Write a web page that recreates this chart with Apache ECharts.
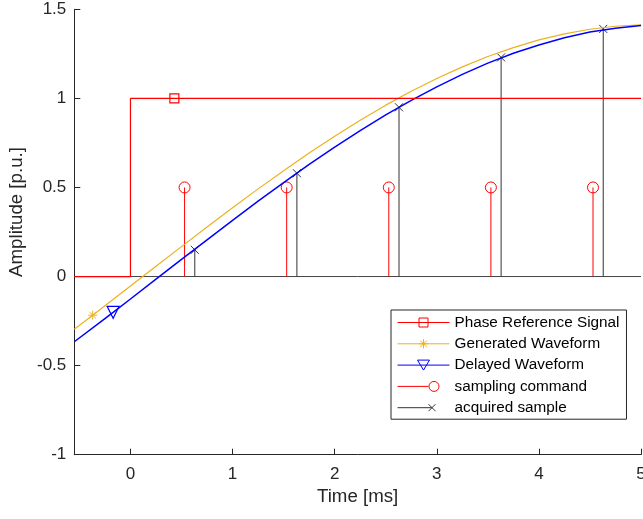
<!DOCTYPE html>
<html>
<head>
<meta charset="utf-8">
<script src="https://cdn.jsdelivr.net/npm/echarts@6/dist/echarts.min.js"></script>
<style>
html,body{margin:0;padding:0;background:#fff;}
#chart{width:643px;height:519px;}
</style>
</head>
<body>
<div id="chart"></div>
<script>
// ---- data ----
var xRange = [-0.55, 5];
var xTicks = [0, 1, 2, 3, 4, 5];
var yRange = [-1, 1.5];

var phaseT = [-0.55, 0, 0, 0.43, 5];
var phaseV = [0, 0, 1, 1, 1];
var phaseMarkerIdx = 3;

var genT = [-0.55, -0.37, -0.25, 0, 0.25, 0.5, 0.75, 1, 1.25, 1.5, 1.75, 2, 2.25, 2.5, 2.75, 3, 3.25, 3.5, 3.75, 4, 4.25, 4.5, 4.75, 5];
var genV = [-0.296, -0.217, -0.164, -0.053, 0.058, 0.168, 0.278, 0.386, 0.492, 0.594, 0.693, 0.788, 0.877, 0.962, 1.040, 1.112, 1.177, 1.235, 1.285, 1.328, 1.362, 1.388, 1.405, 1.413];
var genMarkerIdx = 1;

var delT = [-0.55, -0.25, -0.17, 0, 0.25, 0.5, 0.75, 1, 1.25, 1.5, 1.75, 2, 2.25, 2.5, 2.75, 3, 3.25, 3.5, 3.75, 4, 4.25, 4.5, 4.75, 5];
var delV = [-0.366, -0.236, -0.201, -0.126, -0.015, 0.096, 0.206, 0.315, 0.423, 0.527, 0.629, 0.726, 0.819, 0.907, 0.989, 1.065, 1.135, 1.198, 1.253, 1.300, 1.340, 1.372, 1.394, 1.409];
var delMarkerIdx = 2;

var sampleT = [0.53, 1.53, 2.53, 3.53, 4.53];
var sampleV = [0.5, 0.5, 0.5, 0.5, 0.5];

var acqT = [0.63, 1.63, 2.63, 3.63, 4.63];
var acqV = [0.15, 0.58, 0.95, 1.23, 1.39];

var stemBase = 0;

var names = ['Phase Reference Signal', 'Generated Waveform', 'Delayed Waveform', 'sampling command', 'acquired sample'];

// ---- helpers ----
function markerLine(xs, ys, idx) {
  return xs.map(function (x, i) {
    return i === idx ? [x, ys[i]] : { value: [x, ys[i]], symbol: 'none' };
  });
}
function stems(xs, ys) {
  var d = [];
  xs.forEach(function (x, i) {
    d.push({ value: [x, stemBase], symbol: 'none' });
    d.push([x, ys[i]]);
    d.push([x, '-']);
  });
  return d;
}

var FONT = 'Liberation Sans, Arial, sans-serif';
var AX = '#262626';
var RED = '#ff0000', ORANGE = '#EDB120', BLUE = '#0000ff', BLACK = '#333333';

// legend icons (MATLAB style: line with marker), 52 x 14 box
var icons = [
  'path://M0 7L52 7M21.5 2.5L30.5 2.5L30.5 11.5L21.5 11.5Z',
  'path://M0 7L52 7M26 2.5L26 11.5M21.5 7L30.5 7M22.8 3.8L29.2 10.2M22.8 10.2L29.2 3.8',
  'path://M0 7L52 7M20 2L32 2L26 12Z',
  'path://M0 7L31 7M41.5 7A5 5 0 1 1 31.5 7A5 5 0 1 1 41.5 7M52 7L52 7',
  'path://M0 7L34 7M31 3.5L38 10.5M31 10.5L38 3.5M52 7L52 7'
];

var chart = echarts.init(document.getElementById('chart'), null, { renderer: 'canvas' });
chart.setOption({
  animation: false,
  backgroundColor: '#ffffff',
  grid: { left: 74.3, right: 2, top: 9.3, bottom: 64.3, outerBoundsMode: 'none', containLabel: false },
  xAxis: {
    type: 'value', min: xRange[0], max: xRange[1],
    name: 'Time [ms]', nameLocation: 'middle', nameGap: 32,
    nameTextStyle: { fontFamily: FONT, fontSize: 18.7, color: AX },
    axisLine: { show: true, onZero: false, lineStyle: { color: AX, width: 1 } },
    axisTick: { show: true, inside: true, length: 6, customValues: xTicks, lineStyle: { color: AX } },
    axisLabel: { customValues: xTicks, margin: 11, fontFamily: FONT, fontSize: 17, color: AX },
    splitLine: { show: false }
  },
  yAxis: {
    type: 'value', min: yRange[0], max: yRange[1], interval: 0.5,
    name: 'Amplitude [p.u.]', nameLocation: 'middle', nameGap: 43,
    nameTextStyle: { fontFamily: FONT, fontSize: 18.7, color: AX, padding: [0, 0, 0, 40] },
    axisLine: { show: true, onZero: false, lineStyle: { color: AX, width: 1 } },
    axisTick: { show: true, inside: true, length: 6, lineStyle: { color: AX } },
    axisLabel: { margin: 8, fontFamily: FONT, fontSize: 17, color: AX },
    splitLine: { show: false }
  },
  legend: {
    orient: 'vertical', left: 391, top: 310,
    itemWidth: 52, itemHeight: 14, itemGap: 6.3,
    padding: [5, 7, 4, 6],
    borderColor: AX, borderWidth: 1, backgroundColor: '#ffffff',
    itemStyle: { borderWidth: 1 },
    textStyle: { fontFamily: FONT, fontSize: 15.3, color: '#000' },
    data: names.map(function (n, i) { return { name: n, icon: icons[i] }; }),
    selectedMode: false
  },
  series: [
    {
      name: 'stem baseline', type: 'line', silent: true, z: 1,
      data: [[xRange[0], stemBase], [xRange[1], stemBase]],
      symbol: 'none', lineStyle: { color: '#444444', width: 1 }
    },
    {
      name: names[0], type: 'line', z: 4,
      data: markerLine(phaseT, phaseV, phaseMarkerIdx),
      symbol: 'rect', symbolSize: 9, showSymbol: true,
      lineStyle: { color: RED, width: 1.2 },
      itemStyle: { color: 'rgba(0,0,0,0)', borderColor: RED, borderWidth: 1.2 }
    },
    {
      name: names[1], type: 'line', z: 3,
      data: markerLine(genT, genV, genMarkerIdx),
      symbol: 'path://M5 0L5 10M0 5L10 5M1.5 1.5L8.5 8.5M1.5 8.5L8.5 1.5', symbolSize: 9, showSymbol: true,
      lineStyle: { color: ORANGE, width: 1.2 },
      itemStyle: { color: 'rgba(0,0,0,0)', borderColor: ORANGE, borderWidth: 1 }
    },
    {
      name: names[2], type: 'line', z: 3,
      data: markerLine(delT, delV, delMarkerIdx),
      symbol: 'triangle', symbolRotate: 180, symbolSize: 12, showSymbol: true,
      lineStyle: { color: BLUE, width: 1.5 },
      itemStyle: { color: 'rgba(0,0,0,0)', borderColor: BLUE, borderWidth: 1.2 }
    },
    {
      name: names[3], type: 'line', z: 2,
      data: stems(sampleT, sampleV),
      symbol: 'circle', symbolSize: 11, showSymbol: true,
      lineStyle: { color: RED, width: 1 },
      itemStyle: { color: 'rgba(0,0,0,0)', borderColor: RED, borderWidth: 1 }
    },
    {
      name: names[4], type: 'line', z: 2,
      data: stems(acqT, acqV),
      symbol: 'path://M0 0L10 10M0 10L10 0', symbolSize: 8, showSymbol: true,
      lineStyle: { color: BLACK, width: 1 },
      itemStyle: { color: 'rgba(0,0,0,0)', borderColor: BLACK, borderWidth: 1 }
    }
  ]
});
</script>
</body>
</html>
